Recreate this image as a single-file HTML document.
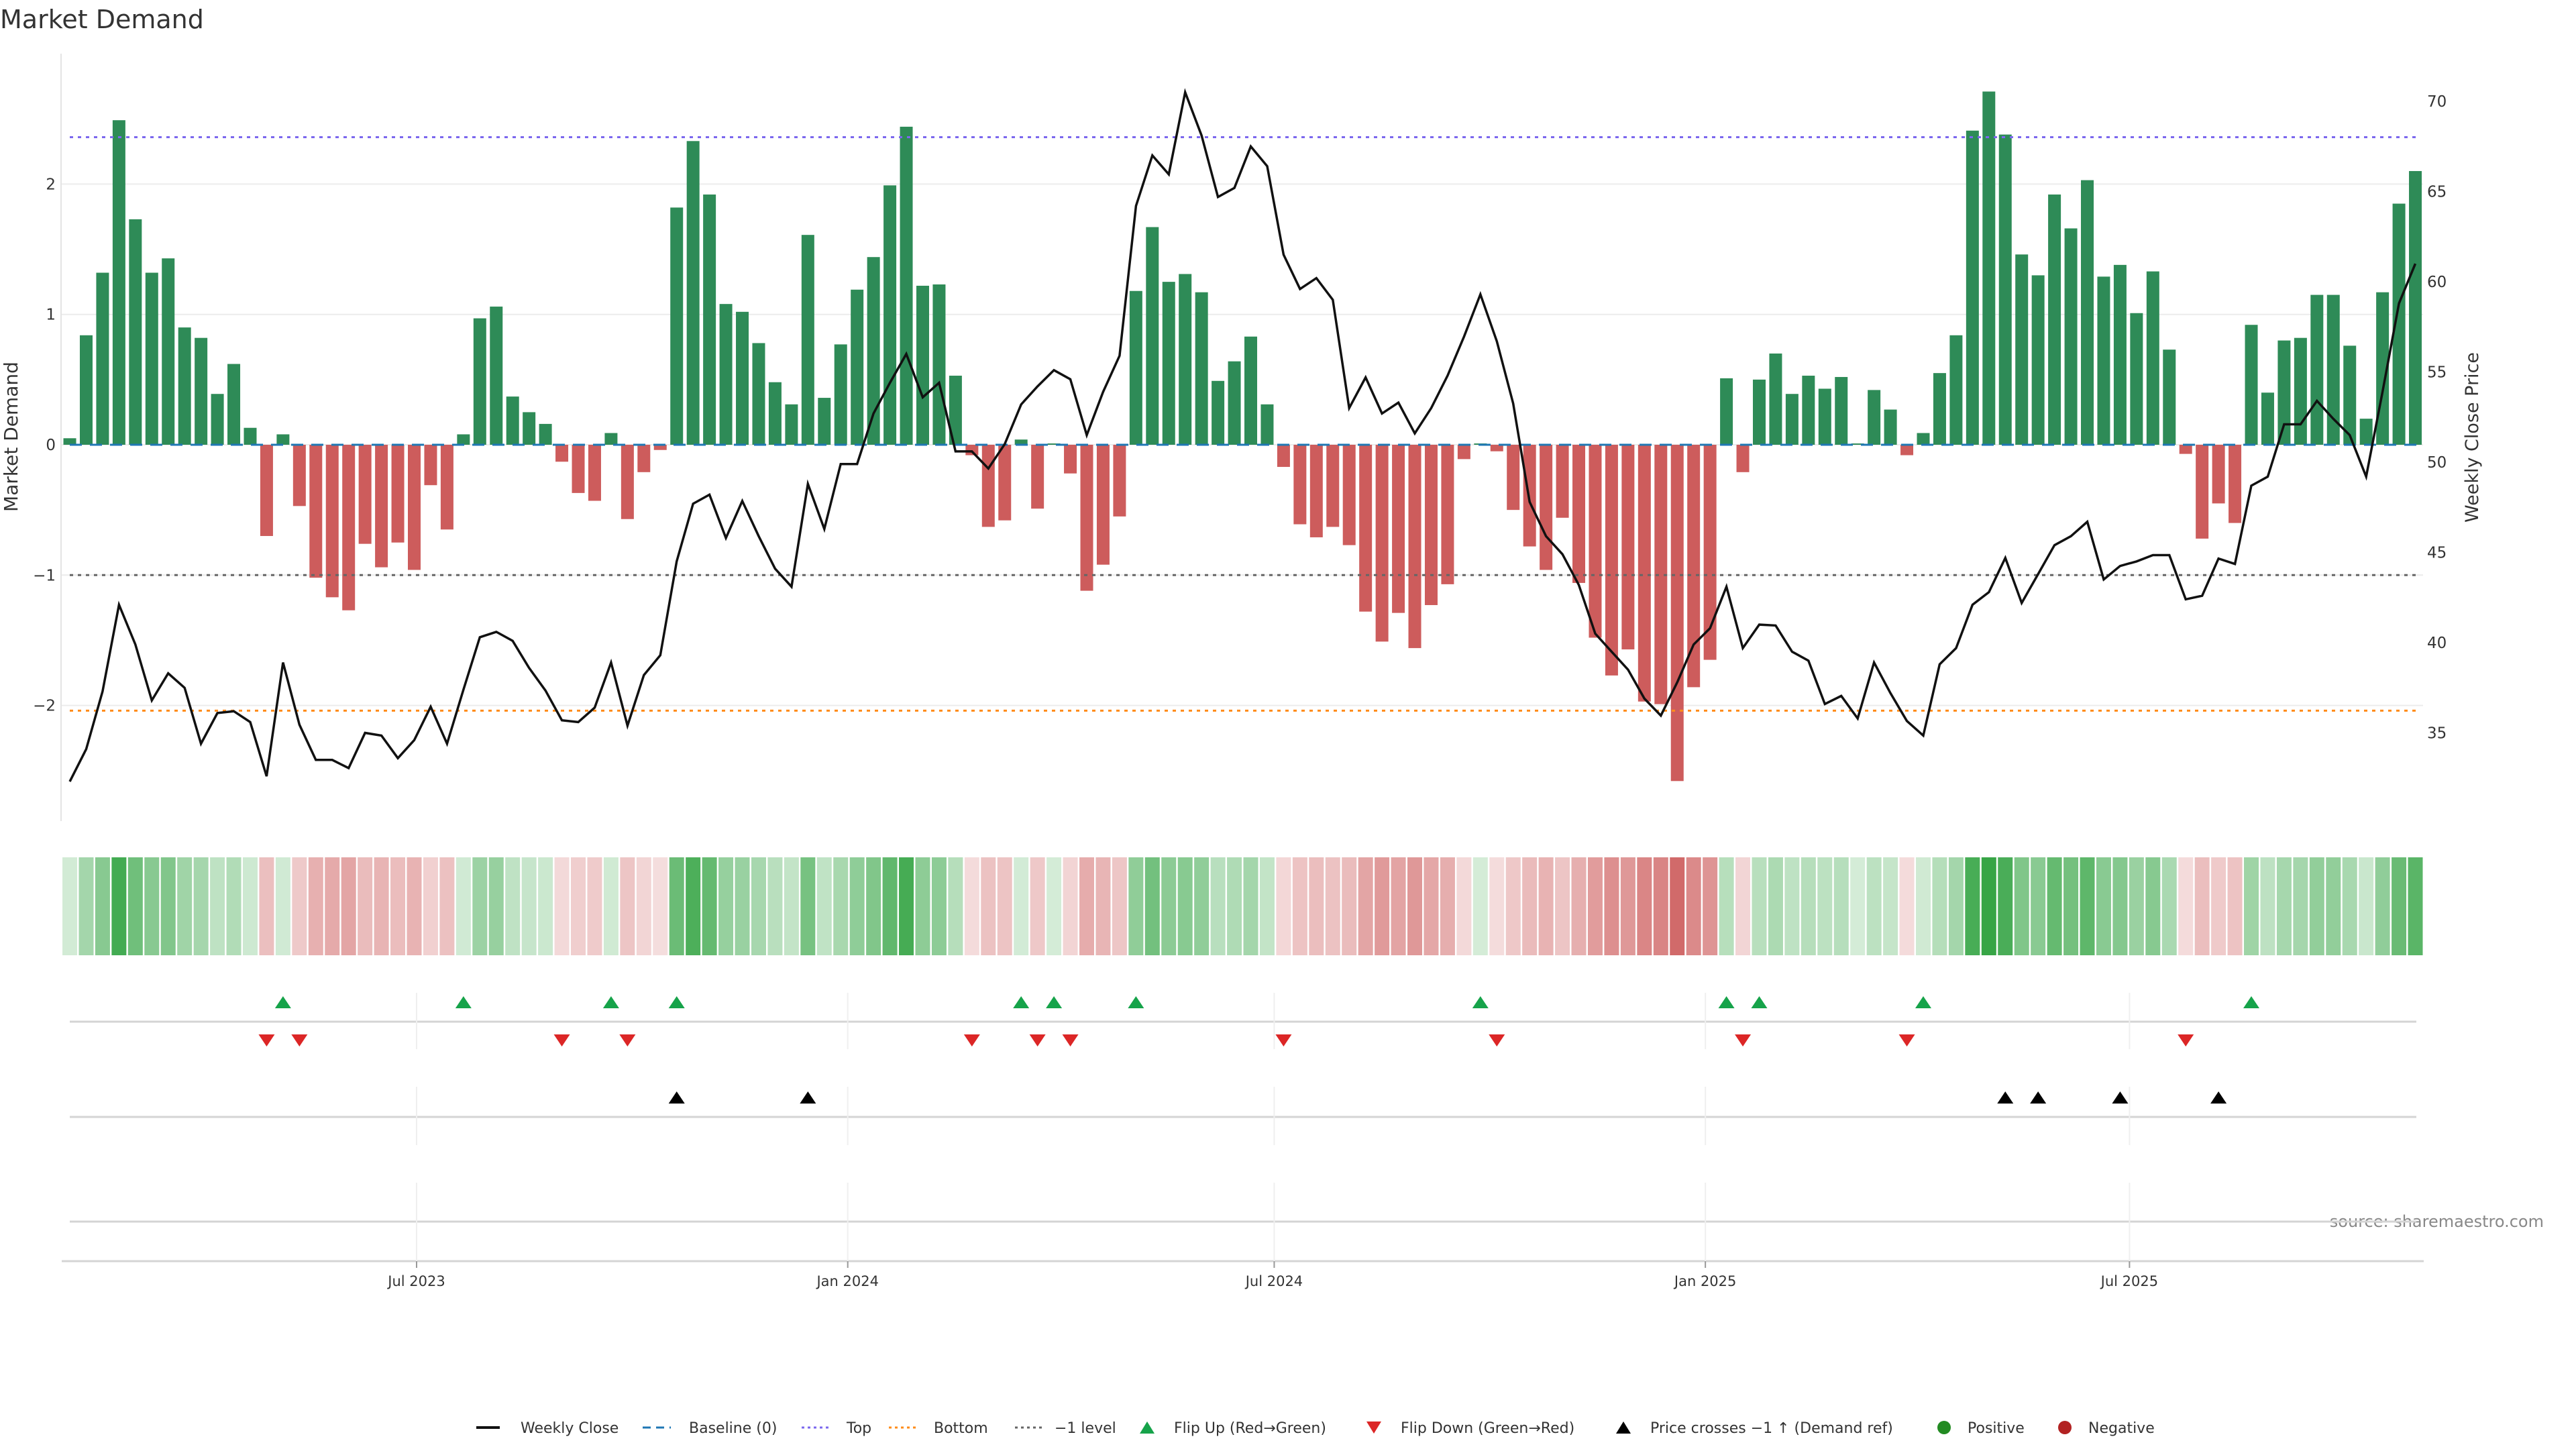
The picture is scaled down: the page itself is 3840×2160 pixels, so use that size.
<!DOCTYPE html>
<html><head><meta charset="utf-8"><title>Market Demand</title>
<style>
html,body{margin:0;padding:0;background:#fff;}
svg{display:block;font-family:"DejaVu Sans","Liberation Sans",sans-serif;}
</style></head>
<body>
<svg id="chart" width="3840" height="2160" viewBox="0 0 3840 2160" xmlns="http://www.w3.org/2000/svg">
<rect x="0" y="0" width="3840" height="2160" fill="#fff"/>
<text x="0" y="42" font-size="38" fill="#333">Market Demand</text>
<text transform="translate(26,651) rotate(-90)" text-anchor="middle" font-size="28" fill="#333">Market Demand</text>
<text transform="translate(3694,652) rotate(-90)" text-anchor="middle" font-size="27" fill="#333">Weekly Close Price</text>
<text x="3792" y="1829" text-anchor="end" font-size="24" fill="#888">source: sharemaestro.com</text>
<g id="grid"></g><g id="bars"></g><g id="refs"></g><g id="line"></g><g id="axes"></g><g id="heat"></g><g id="markers"></g><g id="legend"></g>
</svg>
<script>
const demandValues = [0.05,0.84,1.32,2.49,1.73,1.32,1.43,0.90,0.82,0.39,0.62,0.13,
-0.70,0.08,-0.47,-1.02,-1.17,-1.27,-0.76,-0.94,-0.75,-0.96,-0.31,-0.65,
0.08,0.97,1.06,0.37,0.25,0.16,-0.13,-0.37,-0.43,0.09,-0.57,-0.21,-0.04,
1.82,2.33,1.92,1.08,1.02,0.78,0.48,0.31,1.61,0.36,0.77,1.19,1.44,1.99,2.44,1.22,1.23,0.53,
-0.08,-0.63,-0.58,0.04,-0.49,0.01,-0.22,-1.12,-0.92,-0.55,
1.18,1.67,1.25,1.31,1.17,0.49,0.64,0.83,0.31,
-0.17,-0.61,-0.71,-0.63,-0.77,-1.28,-1.51,-1.29,-1.56,-1.23,-1.07,-0.11,0.01,-0.05,-0.50,-0.78,-0.96,-0.56,-1.06,-1.48,-1.77,-1.57,-1.97,-1.99,-2.58,-1.86,-1.65,
0.51,-0.21,0.50,0.70,0.39,0.53,0.43,0.52,0.01,0.42,0.27,-0.08,0.09,0.55,0.84,2.41,2.71,2.38,1.46,1.30,1.92,1.66,2.03,1.29,1.38,1.01,1.33,0.73,
-0.07,-0.72,-0.45,-0.60,0.92,0.40,0.80,0.82,1.15,1.15,0.76,0.20,1.17,1.85,2.10];
const closePrices = [32.3,34.1,37.3,42.1,39.9,36.8,38.3,37.5,34.4,36.1,36.2,35.6,32.6,38.9,35.45,33.5,33.5,33.05,35.0,34.85,33.6,34.6,36.45,34.4,37.4,40.3,40.6,40.1,38.6,37.35,35.7,35.6,36.4,38.9,35.4,38.2,39.3,
44.5,47.7,48.2,45.8,47.85,45.9,44.1,43.1,48.8,46.3,49.9,49.9,52.7,54.4,56.0,53.6,54.4,50.6,50.6,49.65,51.0,53.2,54.2,55.1,54.6,51.5,53.9,55.9,64.2,67.0,65.95,70.5,68.1,64.7,65.2,67.5,
66.4,61.5,59.6,60.2,59.0,53.0,54.7,52.7,53.3,51.6,53.0,54.8,56.96,59.3,56.7,53.25,47.8,45.9,44.9,43.2,40.5,39.5,38.5,36.9,35.96,37.8,39.9,40.8,43.1,39.7,41.0,40.95,39.5,39.0,36.6,37.05,35.8,
38.9,37.2,35.66,34.85,38.8,39.7,42.1,42.8,44.7,42.2,43.8,45.4,45.9,46.7,43.5,44.25,44.5,44.85,44.85,42.4,42.6,44.66,44.36,48.7,49.2,52.1,52.1,53.4,52.4,51.5,49.2,53.9,58.8,61.0];
const startDate = "2023-02-03";
const demandTicks = [-2,-1,0,1,2];
const demandTickLabels = ["\u22122","\u22121","0","1","2"];
const priceTicks = [35,40,45,50,55,60,65,70];
const dateTicks = ["2023-07-01","2024-01-01","2024-07-01","2025-01-01","2025-07-01"];
const dateTickLabels = ["Jul 2023","Jan 2024","Jul 2024","Jan 2025","Jul 2025"];
const topLevel = 2.36;
const bottomLevel = -2.04;
const minusOneLevel = -1;

const NS="http://www.w3.org/2000/svg";
const DAY=86400000;
const t0=Date.parse("2023-07-01T00:00:00Z");
function xDate(ms){return 621+(ms-t0)/DAY*3.493;}
const s0=Date.parse(startDate+"T00:00:00Z");
function xIdx(i){return xDate(s0+i*7*DAY);}
function yD(v){return 663-v*194.3;}
function yP(p){return 151+(70-p)*26.9;}
function pFromY(y){return 70-(y-151)/26.9;}
function mk(tag,attrs,parent){const e=document.createElementNS(NS,tag);for(const k in attrs)e.setAttribute(k,attrs[k]);parent.appendChild(e);return e;}
const G=id=>document.getElementById(id);
const X0=91,X1=3612;

const grid=G('grid'),axes=G('axes');
demandTicks.forEach((v,i)=>{
  const l=mk('line',{x1:X0,x2:X1,y1:yD(v),y2:yD(v),stroke:'#ececec','stroke-width':2},grid);
  
  
  const t=mk('text',{x:83,y:yD(v)+8,'text-anchor':'end','font-size':23,fill:'#333'},axes);
  t.textContent=demandTickLabels[i];
  
  
});
priceTicks.forEach(p=>{
  const t=mk('text',{x:3618,y:yP(p)+8,'font-size':23,fill:'#333'},axes);
  t.textContent=String(p);
  
  
});
const spine=mk('line',{x1:X0,x2:X0,y1:80,y2:1224,stroke:'#e4e4e4','stroke-width':2},axes);



const bars=G('bars');
demandValues.forEach((v,i)=>{
  const x=xIdx(i);
  const y=Math.min(yD(v),yD(0)),h=Math.abs(yD(v)-yD(0));
  const r=mk('rect',{x:x-9.5,y:y,width:19,height:Math.max(h,0.5),fill:v>=0?'#2e8b57':'#cd5c5c'},bars);
  
  
});

const refs=G('refs');
function ref(v,color,dash,name,w){
  const l=mk('line',{x1:104,x2:3604,y1:yD(v),y2:yD(v),stroke:color,'stroke-width':w,'stroke-dasharray':dash},refs);
  
  
}
ref(0,'#1f77b4','18 12','baseline-zero',3);
ref(topLevel,'#7b68ee','5 7','top-level-line',3);
ref(bottomLevel,'#ff8c1a','5 7','bottom-level-line',3);
ref(minusOneLevel,'#666','5 7','minus-one-level-line',3);

const pts=closePrices.map((p,i)=>xIdx(i).toFixed(1)+','+yP(p).toFixed(1)).join(' ');
const pl=mk('polyline',{points:pts,fill:'none',stroke:'#111','stroke-width':3.5,'stroke-linejoin':'miter'},G('line'));



const heat=G('heat');
const maxAbs=Math.max(...demandValues.map(Math.abs));
demandValues.forEach((v,i)=>{
  const a=0.2+0.75*Math.abs(v)/maxAbs;
  const base=v>=0?[44,160,60]:[205,92,92];
  const c=base.map(b=>Math.round(255-a*(255-b)));
  const r=mk('rect',{x:xIdx(i)-11,y:1278,width:22,height:146,fill:'rgb('+c.join(',')+')'},heat);
  
  
});

const mkr=G('markers');
[[1523,104,3602],[1665,104,3602],[1821,104,3602]].forEach(a=>{
  const l=mk('line',{x1:a[1],x2:a[2],y1:a[0],y2:a[0],stroke:'#d4d4d4','stroke-width':3},mkr);
  
  
});
const xaxis=mk('line',{x1:92,x2:3613,y1:1880,y2:1880,stroke:'#d4d4d4','stroke-width':3},mkr);


dateTicks.forEach((d,i)=>{
  const x=xDate(Date.parse(d+"T00:00:00Z"));
  [[1480,1564],[1620,1707],[1763,1880]].forEach(s=>{
    const g=mk('line',{x1:x,x2:x,y1:s[0],y2:s[1],stroke:'#efefef','stroke-width':2},mkr);
    
    
  });
  const tk=mk('line',{x1:x,x2:x,y1:1880,y2:1890,stroke:'#999','stroke-width':2},mkr);
  
  
  const t=mk('text',{x:x,y:1917,'text-anchor':'middle','font-size':21,fill:'#333'},mkr);
  t.textContent=dateTickLabels[i];
  
  
});
function tri(x,y,up,color,name){
  const w=12,h=9;
  const p=up?[[x-w,y+h],[x+w,y+h],[x,y-h]]:[[x-w,y-h],[x+w,y-h],[x,y+h]];
  const e=mk('polygon',{points:p.map(q=>q.join(',')).join(' '),fill:color},mkr);
  
  
}
const crossLevel=pFromY(yD(minusOneLevel));
for(let i=1;i<demandValues.length;i++){
  const a=demandValues[i-1]>=0,b=demandValues[i]>=0;
  if(!a&&b)tri(xIdx(i),1494,true,'#16a34a','flip-up-marker');
  if(a&&!b)tri(xIdx(i),1551,false,'#dc2626','flip-down-marker');
  if(closePrices[i-1]<crossLevel&&closePrices[i]>=crossLevel)tri(xIdx(i),1636,true,'#000','price-cross-marker');
}

const lg=G('legend');
const LY=2128;
function ltext(x,s){const t=mk('text',{x:x,y:LY+8,'font-size':22,fill:'#333'},lg);t.textContent=s;}
function lline(x1,x2,color,dash,w,name){const l=mk('line',{x1:x1,x2:x2,y1:LY,y2:LY,stroke:color,'stroke-width':w,'stroke-dasharray':dash},lg);}
lline(710,745,'#111','none',4,'legend-weekly-close');ltext(776,'Weekly Close');
lline(958,1000,'#1f77b4','12 8',3,'legend-baseline');ltext(1027,'Baseline (0)');
lline(1195,1237,'#7b68ee','4 5',3,'legend-top');ltext(1262,'Top');
lline(1325,1367,'#ff8c1a','4 5',3,'legend-bottom');ltext(1392,'Bottom');
lline(1513,1555,'#666','4 5',3,'legend-minus-one');ltext(1572,'\u22121 level');
function ltri(x,up,color,name){const w=11,h=9;const p=up?[[x-w,LY+h],[x+w,LY+h],[x,LY-h]]:[[x-w,LY-h],[x+w,LY-h],[x,LY+h]];const e=mk('polygon',{points:p.map(q=>q.join(',')).join(' '),fill:color},lg);}
ltri(1710,true,'#16a34a','legend-flip-up');ltext(1750,'Flip Up (Red\u2192Green)');
ltri(2048,false,'#dc2626','legend-flip-down');ltext(2088,'Flip Down (Green\u2192Red)');
ltri(2420,true,'#000','legend-price-cross');ltext(2460,'Price crosses \u22121 \u2191 (Demand ref)');
const c1=mk('circle',{cx:2898,cy:LY,r:10,fill:'#228b22'},lg);


ltext(2933,'Positive');
const c2=mk('circle',{cx:3078,cy:LY,r:10,fill:'#b22222'},lg);


ltext(3113,'Negative');
</script>
</body></html>
